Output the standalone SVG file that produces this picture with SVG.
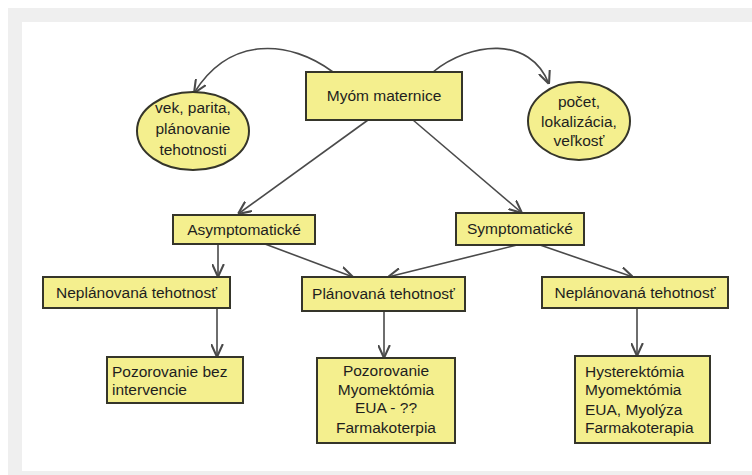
<svg xmlns="http://www.w3.org/2000/svg" width="752" height="475" viewBox="0 0 752 475">
<defs>
<style>
.box{fill:#f4ef8e;stroke:#35352a;stroke-width:2}
.t{font-family:"Liberation Sans",Arial,sans-serif;font-size:15.5px;fill:#1e1e1e}
.c{text-anchor:middle}
.ln{fill:none;stroke:#4a4a4a;stroke-width:1.6;marker-end:url(#ah)}
</style>
<marker id="ah" markerUnits="userSpaceOnUse" markerWidth="13" markerHeight="13" refX="10" refY="5" orient="auto" viewBox="0 0 10 10">
<path d="M0,0.5 L10,5 L0,9.5" fill="none" stroke="#4a4a4a" stroke-width="1.6"/>
</marker>
</defs>
<rect x="0" y="0" width="752" height="475" fill="#ffffff"/>
<rect x="8" y="8" width="744" height="467" fill="#efefef"/>
<rect x="22" y="22" width="730" height="449" fill="#ffffff"/>
<g id="connectors">
<path class="ln" d="M333,72 C290,40 230,35 194,93"/>
<path class="ln" d="M433,72 C470,42 530,35 549,84"/>
<path class="ln" d="M368,120 L238,214"/>
<path class="ln" d="M413,120 L522,213"/>
<path class="ln" d="M218,244 L218,277"/>
<path class="ln" d="M265,244 L353,277"/>
<path class="ln" d="M517,245 L388,277"/>
<path class="ln" d="M540,245 L633,277"/>
<path class="ln" d="M217,308 L217,357"/>
<path class="ln" d="M384,311 L384,358"/>
<path class="ln" d="M637,308 L637,356"/>
</g>
<g id="myom">
<rect class="box" x="306" y="72" width="156" height="48"/>
<text class="t c" x="384" y="101">Myóm maternice</text>
</g>
<g id="vek">
<ellipse class="box" cx="193" cy="131" rx="56" ry="39"/>
<text class="t c" x="193" y="113">vek, parita,</text>
<text class="t c" x="193" y="134">plánovanie</text>
<text class="t c" x="193" y="155">tehotnosti</text>
</g>
<g id="pocet">
<ellipse class="box" cx="579" cy="121" rx="51" ry="39"/>
<text class="t c" x="579" y="107">počet,</text>
<text class="t c" x="579" y="127">lokalizácia,</text>
<text class="t c" x="579" y="146">veľkosť</text>
</g>
<g id="asymp">
<rect class="box" x="173" y="215" width="142" height="29"/>
<text class="t c" x="244" y="235">Asymptomatické</text>
</g>
<g id="symp">
<rect class="box" x="456" y="213" width="128" height="32"/>
<text class="t c" x="520" y="234">Symptomatické</text>
</g>
<g id="nepl1">
<rect class="box" x="43" y="277" width="187" height="31"/>
<text class="t c" x="136.5" y="298">Neplánovaná tehotnosť</text>
</g>
<g id="plan">
<rect class="box" x="302" y="277" width="163" height="34"/>
<text class="t c" x="383.5" y="299">Plánovaná tehotnosť</text>
</g>
<g id="nepl2">
<rect class="box" x="542" y="277" width="186" height="31"/>
<text class="t c" x="635" y="298">Neplánovaná tehotnosť</text>
</g>
<g id="pozor">
<rect class="box" x="107" y="357" width="136" height="46"/>
<text class="t" x="112" y="377">Pozorovanie bez</text>
<text class="t" x="112" y="395">intervencie</text>
</g>
<g id="mid">
<rect class="box" x="317" y="358" width="138" height="85"/>
<text class="t c" x="386" y="376">Pozorovanie</text>
<text class="t c" x="386" y="395">Myomektómia</text>
<text class="t c" x="386" y="413">EUA - ??</text>
<text class="t c" x="386" y="433">Farmakoterpia</text>
</g>
<g id="right">
<rect class="box" x="575" y="356" width="135" height="87"/>
<text class="t" x="585" y="377">Hysterektómia</text>
<text class="t" x="585" y="395">Myomektómia</text>
<text class="t" x="585" y="415">EUA, Myolýza</text>
<text class="t" x="585" y="433">Farmakoterapia</text>
</g>
</svg>
